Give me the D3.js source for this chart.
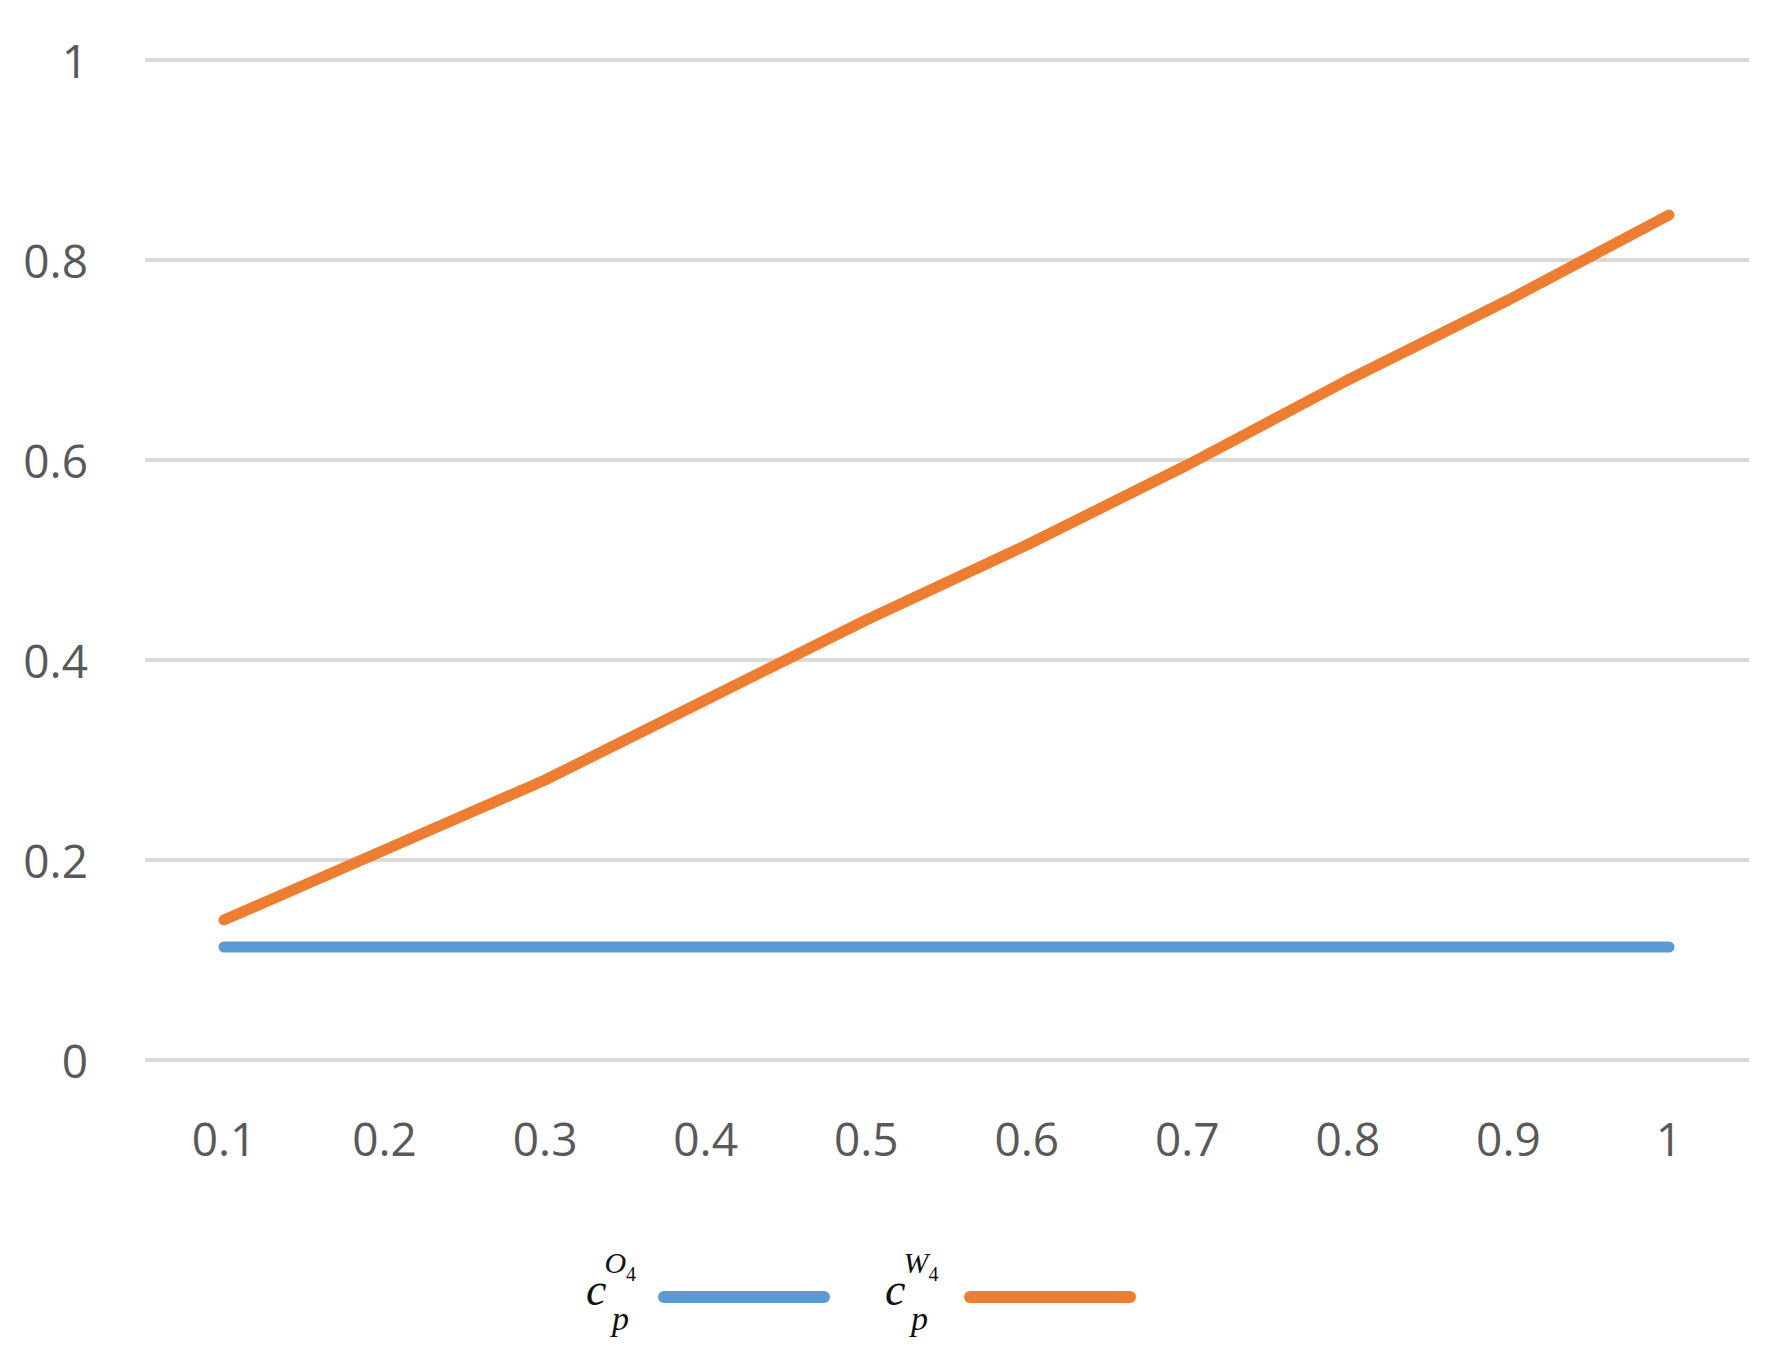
<!DOCTYPE html>
<html><head><meta charset="utf-8">
<script src="https://cdn.jsdelivr.net/npm/d3@7"></script>
<style>body{margin:0;background:#fff}</style>
</head><body>
<script>
const xValues = [0.1, 0.2, 0.3, 0.4, 0.5, 0.6, 0.7, 0.8, 0.9, 1];
const seriesO4 = [0.113, 0.113, 0.113, 0.113, 0.113, 0.113, 0.113, 0.113, 0.113, 0.113];
const seriesW4 = [0.14, 0.21, 0.28, 0.36, 0.44, 0.515, 0.595, 0.68, 0.76, 0.845];
const yTicks = [0, 0.2, 0.4, 0.6, 0.8, 1];

const w = 1776, h = 1353;
const svg = d3.select("body").append("svg").attr("width", w).attr("height", h);

const x = d3.scalePoint().domain(xValues).range([224, 1669]);
const y = d3.scaleLinear().domain([0, 1]).range([1060, 60]);

// gridlines
svg.selectAll("line.grid").data(yTicks).enter().append("line")
	.attr("x1", 145).attr("x2", 1749)
	.attr("y1", d => y(d)).attr("y2", d => y(d))
	.attr("stroke", "#d9d9d9").attr("stroke-width", 4);

svg.selectAll("text.ytick").data(yTicks).enter().append("text")
	.attr("x", 88).attr("y", d => y(d)).attr("text-anchor", "end")
	.attr("dominant-baseline", "central")
	.style("font-family", "Open Sans, Noto Sans, sans-serif").style("font-size", "46px").style("fill", "#595959")
	.text(d => d);

svg.selectAll("text.xtick").data(xValues).enter().append("text")
	.attr("x", d => x(d)).attr("y", 1138).attr("text-anchor", "middle")
	.attr("dominant-baseline", "central")
	.style("font-family", "Open Sans, Noto Sans, sans-serif").style("font-size", "46px").style("fill", "#595959")
	.text(d => d);

const line = d3.line().x((d, i) => x(xValues[i])).y(d => y(d));
[[seriesO4, "#5b9bd5"], [seriesW4, "#ed7d31"]].forEach(function(s){
	svg.append("path").datum(s[0]).attr("d", line)
		.attr("fill", "none").attr("stroke", s[1]).attr("stroke-width", 11)
		.attr("stroke-linecap", "round").attr("stroke-linejoin", "round");
});

// legend
const legend = [
	{sup: "O", x: 586, lx1: 664, lx2: 824, color: "#5b9bd5"},
	{sup: "W", x: 885, lx1: 970, lx2: 1130, color: "#ed7d31"}
];
legend.forEach(function(l){
	svg.append("line").attr("x1", l.lx1).attr("x2", l.lx2).attr("y1", 1297).attr("y2", 1297)
		.attr("stroke", l.color).attr("stroke-width", 12).attr("stroke-linecap", "round");
	const t = svg.append("text").attr("x", l.x).attr("y", 1305)
		.style("font-family", "Liberation Serif, serif").style("font-style", "italic").style("fill", "#111");
	t.append("tspan").style("font-size", "46px").text("c");
	t.append("tspan").attr("dx", -2).attr("dy", -32).style("font-size", "30px").text(l.sup);
	t.append("tspan").attr("dy", 8).style("font-size", "20px").style("font-style", "normal").text("4");
	svg.append("text").attr("x", l.x + 26).attr("y", 1330)
		.style("font-family", "Liberation Serif, serif").style("font-style", "italic")
		.style("font-size", "34px").style("fill", "#111").text("p");
});
</script>
</body></html>
